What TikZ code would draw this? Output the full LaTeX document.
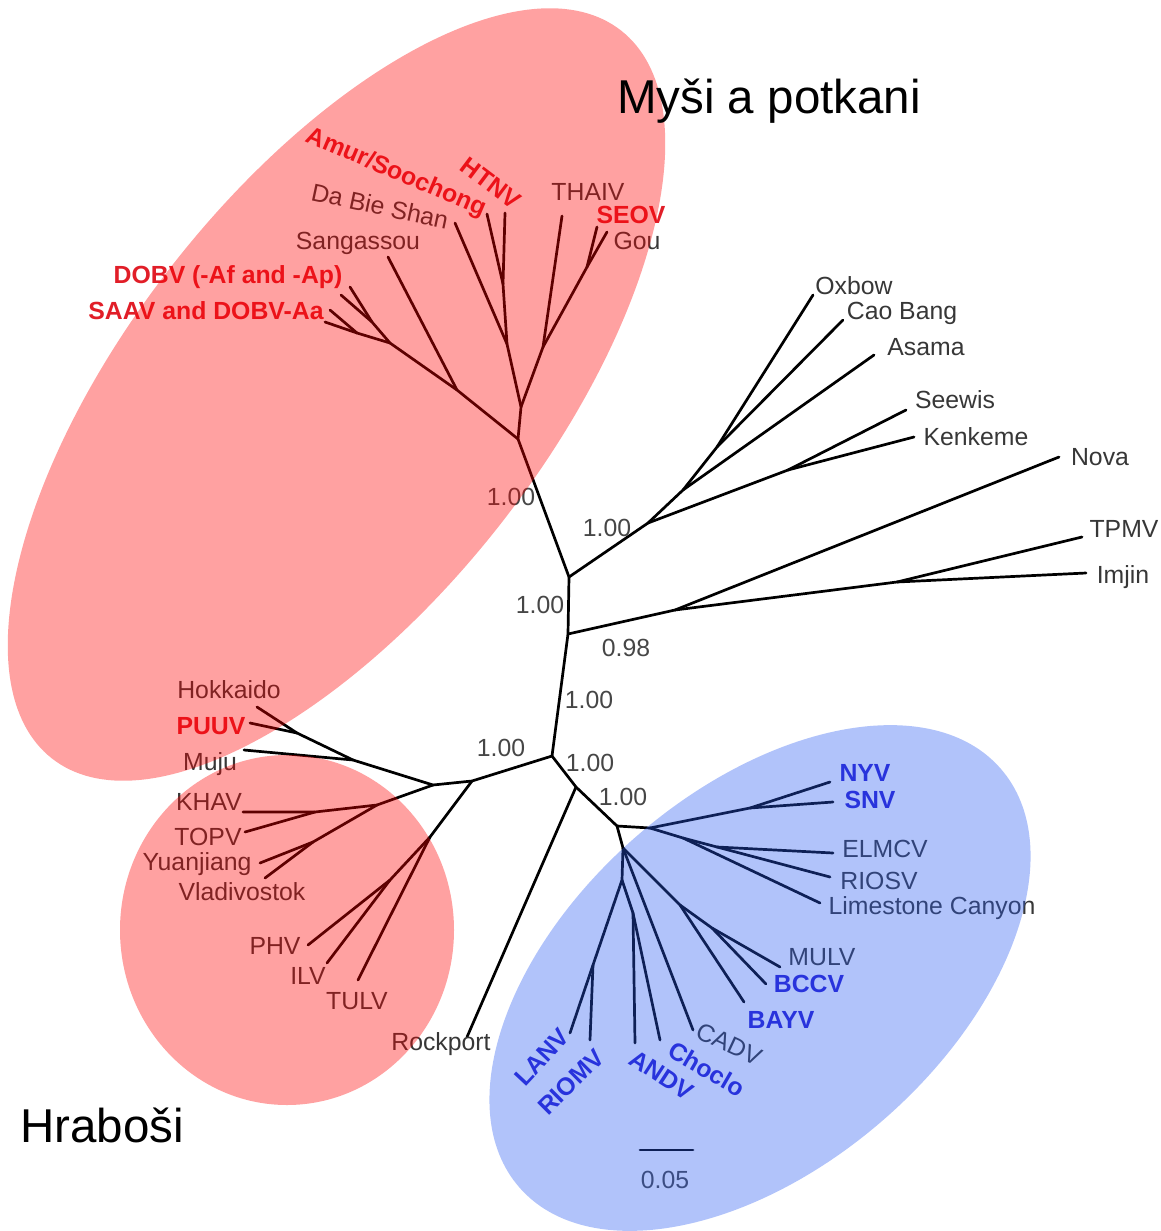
\documentclass[tikz,border=0pt]{standalone}
\usepackage{fontspec}
\setmainfont{Liberation Sans}
\usepackage{xcolor}
\usepackage{tikz}
\definecolor{leafgray}{RGB}{55,55,55}
\definecolor{suppgray}{RGB}{70,70,70}
\definecolor{murired}{RGB}{225,30,40}
\definecolor{arviblue}{RGB}{40,30,210}
\definecolor{hullred}{RGB}{255,0,0}
\definecolor{hullblue}{RGB}{40,90,240}
\newcommand{\labfont}{\fontsize{24.8}{29}\selectfont}
\newcommand{\titlefont}{\fontsize{47.5}{56}\selectfont}
\tikzset{
    branch/.style={draw=black, line width=2.7pt, line cap=round, line join=round},
    leaf/.style={font=\labfont, text=leafgray, inner sep=0pt},
    redleaf/.style={font=\labfont\bfseries, text=murired, inner sep=0pt},
    blueleaf/.style={font=\labfont\bfseries, text=arviblue, inner sep=0pt},
    supp/.style={font=\labfont, text=suppgray, inner sep=0pt},
    grouptitle/.style={font=\titlefont, text=black, inner sep=0pt, anchor=base west}
}

\begin{document}
\begin{tikzpicture}[x=1pt, y=-1pt]
\useasboundingbox (0,0) rectangle (1161,1231);
% backbone
\coordinate (r0) at (518,439);
\coordinate (n1) at (569,577);
\coordinate (n2) at (568,634);
\coordinate (n3) at (552,756);
\coordinate (n4) at (472,781);
\coordinate (n5) at (433,785);
\coordinate (n6) at (576,787);
\coordinate (n7) at (617,826);
\coordinate (n8) at (650,828);
\coordinate (n9) at (623,848);
% murid clade
\coordinate (r1) at (521,407);
\coordinate (r2) at (457,390);
\coordinate (r3) at (390,343);
\coordinate (r4) at (507,344);
\coordinate (r5) at (543,347);
\coordinate (r6) at (503,284);
\coordinate (r7) at (587,267);
\coordinate (d1) at (372,322);
\coordinate (d2) at (357,333);
\coordinate (amur) at (487,214);
\coordinate (htnv) at (505,213);
\coordinate (dabie) at (455,223);
\coordinate (thaiv) at (562,216);
\coordinate (seov) at (597,227);
\coordinate (gou) at (607,232);
\coordinate (sanga) at (388,257);
\coordinate (dobvA) at (350,287);
\coordinate (dobvB) at (341,295);
\coordinate (saavA) at (330,310);
\coordinate (saavB) at (325,322);
% shrew and mole viruses
\coordinate (o1) at (648,523);
\coordinate (o2) at (683,490);
\coordinate (o3) at (717,447);
\coordinate (o4) at (788,470);
\coordinate (oxbow) at (813,295);
\coordinate (caobang) at (843,320);
\coordinate (asama) at (874,355);
\coordinate (seewis) at (906,410);
\coordinate (kenkeme) at (914,437);
\coordinate (t1) at (675,610);
\coordinate (t2) at (897,582);
\coordinate (nova) at (1059,457);
\coordinate (tpmv) at (1082,537);
\coordinate (imjin) at (1086,573);
% arvicoline clade
\coordinate (h1) at (353,760);
\coordinate (h2) at (297,733);
\coordinate (hokk) at (257,707);
\coordinate (puuv) at (250,723);
\coordinate (muju) at (244,750);
\coordinate (k1) at (377,805);
\coordinate (k2) at (315,812);
\coordinate (k3) at (313,842);
\coordinate (khav) at (243,812);
\coordinate (topv) at (245,832);
\coordinate (yuan) at (260,863);
\coordinate (vlad) at (265,878);
\coordinate (p1) at (430,837);
\coordinate (p2) at (390,880);
\coordinate (phv) at (308,945);
\coordinate (ilv) at (327,963);
\coordinate (tulv) at (358,980);
\coordinate (rock) at (467,1037);
% sigmodontine and neotomine clade
\coordinate (s1) at (750,808);
\coordinate (nyv) at (830,782);
\coordinate (snv) at (833,802);
\coordinate (l1) at (683,838);
\coordinate (l2) at (717,847);
\coordinate (elmcv) at (833,853);
\coordinate (riosv) at (830,877);
\coordinate (lime) at (820,903);
\coordinate (b1) at (622,880);
\coordinate (b2) at (633,913);
\coordinate (b3) at (593,965);
\coordinate (lanv) at (570,1033);
\coordinate (riomv) at (590,1040);
\coordinate (andv) at (635,1043);
\coordinate (choclo) at (660,1040);
\coordinate (cadv) at (693,1030);
\coordinate (b4) at (680,905);
\coordinate (b5) at (712,928);
\coordinate (bayv) at (744,1002);
\coordinate (mulv) at (780,967);
\coordinate (bccv) at (766,984);
\coordinate (sb1) at (640,1150);
\coordinate (sb2) at (693,1150);

% branches
\draw[branch] (r0) -- (n1) -- (n2) -- (n3) -- (n4) -- (n5);
\draw[branch] (n3) -- (n6) -- (n7) -- (n9);
\draw[branch] (n7) -- (n8);
\draw[branch] (n6) -- (rock);
\draw[branch] (r0) -- (r1) -- (r4) -- (r6) -- (amur);
\draw[branch] (r6) -- (htnv);
\draw[branch] (r4) -- (dabie);
\draw[branch] (r1) -- (r5) -- (thaiv);
\draw[branch] (r5) -- (r7) -- (seov);
\draw[branch] (r7) -- (gou);
\draw[branch] (r0) -- (r2) -- (r3) -- (d1) -- (dobvA);
\draw[branch] (d1) -- (dobvB);
\draw[branch] (r3) -- (d2) -- (saavA);
\draw[branch] (d2) -- (saavB);
\draw[branch] (r2) -- (sanga);
\draw[branch] (n1) -- (o1) -- (o2) -- (o3) -- (oxbow);
\draw[branch] (o3) -- (caobang);
\draw[branch] (o2) -- (asama);
\draw[branch] (o1) -- (o4) -- (seewis);
\draw[branch] (o4) -- (kenkeme);
\draw[branch] (n2) -- (t1) -- (nova);
\draw[branch] (t1) -- (t2) -- (tpmv);
\draw[branch] (t2) -- (imjin);
\draw[branch] (n5) -- (h1) -- (muju);
\draw[branch] (h1) -- (h2) -- (hokk);
\draw[branch] (h2) -- (puuv);
\draw[branch] (n5) -- (k1) -- (k2) -- (khav);
\draw[branch] (k2) -- (topv);
\draw[branch] (k1) -- (k3) -- (yuan);
\draw[branch] (k3) -- (vlad);
\draw[branch] (n4) -- (p1) -- (p2) -- (phv);
\draw[branch] (p2) -- (ilv);
\draw[branch] (p1) -- (tulv);
\draw[branch] (n8) -- (s1) -- (nyv);
\draw[branch] (s1) -- (snv);
\draw[branch] (n8) -- (l1) -- (lime);
\draw[branch] (l1) -- (l2) -- (elmcv);
\draw[branch] (l2) -- (riosv);
\draw[branch] (n9) -- (b1) -- (b3) -- (lanv);
\draw[branch] (b3) -- (riomv);
\draw[branch] (b1) -- (b2) -- (andv);
\draw[branch] (b2) -- (choclo);
\draw[branch] (n9) -- (cadv);
\draw[branch] (n9) -- (b4) -- (bayv);
\draw[branch] (b4) -- (b5) -- (mulv);
\draw[branch] (b5) -- (bccv);
\draw[branch] (sb1) -- (sb2);

% leaf names
\node[redleaf, rotate=-23] (amurL) at (396,173) {Amur/Soochong};
\node[redleaf, rotate=-37] (htnvL) at (491,183) {HTNV};
\node[leaf, rotate=-12] (dabieL) at (380,206) {Da Bie Shan};
\node[leaf] (thaivL) at (588,192) {THAIV};
\node[redleaf] (seovL) at (631,215) {SEOV};
\node[leaf] (gouL) at (637,241) {Gou};
\node[leaf] (sangaL) at (358,243) {Sangassou};
\node[redleaf] (dobvL) at (228,277) {DOBV (-Af and -Ap)};
\node[redleaf] (saavL) at (206,311) {SAAV and DOBV-Aa};
\node[leaf] (oxbowL) at (854,286) {Oxbow};
\node[leaf] (caobangL) at (902,313) {Cao Bang};
\node[leaf] (asamaL) at (926,347) {Asama};
\node[leaf] (seewisL) at (955,400) {Seewis};
\node[leaf] (kenkemeL) at (976,437) {Kenkeme};
\node[leaf] (novaL) at (1100,457) {Nova};
\node[leaf] (tpmvL) at (1124,529) {TPMV};
\node[leaf] (imjinL) at (1123,577) {Imjin};
\node[leaf] (hokkL) at (229,690) {Hokkaido};
\node[redleaf] (puuvL) at (211,726) {PUUV};
\node[leaf] (mujuL) at (210,764) {Muju};
\node[leaf] (khavL) at (209,802) {KHAV};
\node[leaf] (topvL) at (208,837) {TOPV};
\node[leaf] (yuanL) at (197,864) {Yuanjiang};
\node[leaf] (vladL) at (242,892) {Vladivostok};
\node[leaf] (phvL) at (275,946) {PHV};
\node[leaf] (ilvL) at (308,976) {ILV};
\node[leaf] (tulvL) at (357,1001) {TULV};
\node[leaf] (rockL) at (441,1044) {Rockport};
\node[blueleaf] (nyvL) at (865,773) {NYV};
\node[blueleaf] (snvL) at (870,800) {SNV};
\node[leaf] (elmcvL) at (885,849) {ELMCV};
\node[leaf] (riosvL) at (879,881) {RIOSV};
\node[leaf] (limeL) at (932,908) {Limestone Canyon};
\node[leaf] (mulvL) at (822,957) {MULV};
\node[blueleaf] (bccvL) at (809,984) {BCCV};
\node[blueleaf] (bayvL) at (781,1020) {BAYV};
\node[leaf, rotate=-25] (cadvL) at (729,1044) {CADV};
\node[blueleaf, rotate=-30] (chocloL) at (707,1069) {Choclo};
\node[blueleaf, rotate=-33] (andvL) at (662,1075) {ANDV};
\node[blueleaf, rotate=47] (lanvL) at (542,1057) {LANV};
\node[blueleaf, rotate=45] (riomvL) at (571,1082) {RIOMV};
\node[supp] (scaleL) at (665,1180) {0.05};

% posterior support
\node[supp] (pp1) at (511,497) {1.00};
\node[supp] (pp2) at (607,528) {1.00};
\node[supp] (pp3) at (540,605) {1.00};
\node[supp] (pp4) at (626,648) {0.98};
\node[supp] (pp5) at (589,700) {1.00};
\node[supp] (pp6) at (501,748) {1.00};
\node[supp] (pp7) at (590,763) {1.00};
\node[supp] (pp8) at (623,797) {1.00};

% host groups
\begin{scope}[transparency group, opacity=.37]
\fill[hullred, rotate around={52:(336.5,394.5)}] (336.5,394.5) ellipse [x radius=462, y radius=209];
\fill[hullred] (287,930) ellipse [x radius=167, y radius=175];
\end{scope}
\fill[hullblue, opacity=.36, rotate around={41:(760,978)}] (760,978) ellipse [x radius=319, y radius=188];

\node[grouptitle] (mice) at (617,113) {Myši a potkani};
\node[grouptitle] (voles) at (20,1142) {Hraboši};
\end{tikzpicture}
\end{document}
